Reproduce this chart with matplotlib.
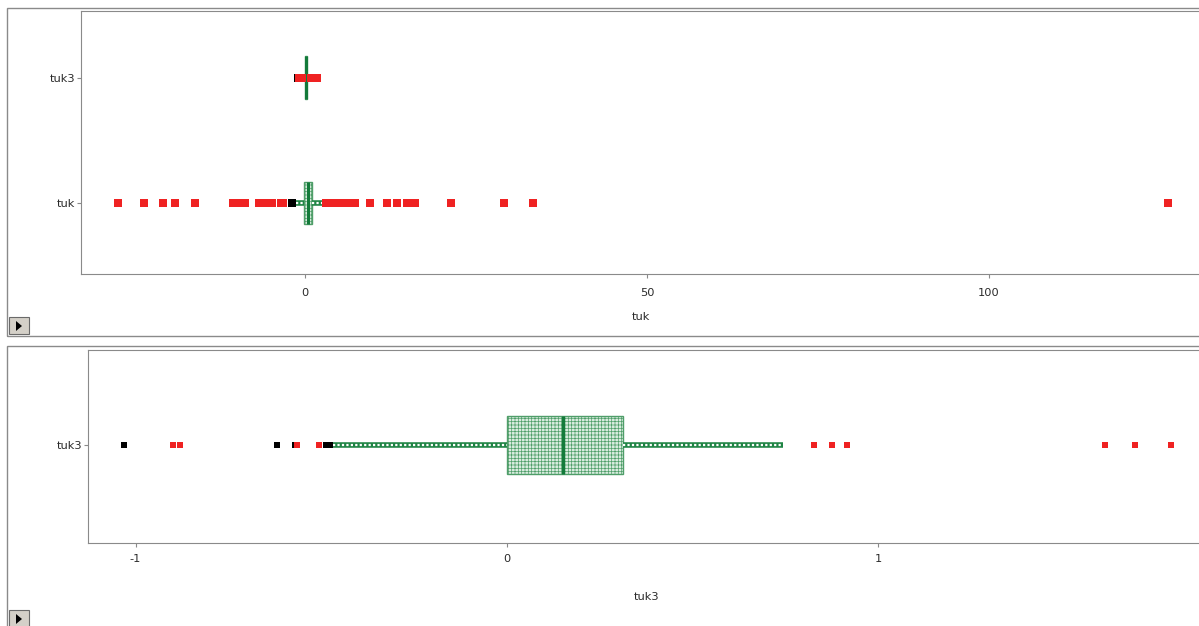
import matplotlib.pyplot as plt
from matplotlib.patches import Rectangle, Polygon

W, H = 1199, 626

# five-number summaries: whisker low, q1, median, q3, whisker high
tuk_stats = [-1.3, -0.15, 0.45, 1.05, 2.5]
tuk3_stats = [-0.468, 0.0, 0.151, 0.312, 0.743]

# outlying points
tuk_black = [-1.9]
tuk_red = [-27.3, -23.5, -20.8, -19.0, -16.1, -10.5, -9.5, -8.7, -6.7, -5.8, -4.8,
           -3.5, -3.2, 3.1, 4.1, 5.1, 6.3, 7.3, 9.5, 12.0, 13.5, 14.9, 16.1,
           21.3, 29.1, 33.3, 126.2]
tuk3_black = [-1.030, -0.620, -0.572, -0.486, -0.477]
tuk3_red = [-0.900, -0.880, -0.566, -0.505, 0.826, 0.875, 0.914, 1.610, 1.690, 1.787]

GREEN = '#1f8444'
RED = '#ef2222'
GRAY = '#8a8a8a'
TXT = '#2a2a2a'

plt.rcParams['hatch.linewidth'] = 0.5


def px_rect(left, top, right, bottom):
    return [left / W, 1 - bottom / H, (right - left) / W, (bottom - top) / H]


def draw_box(ax, s, pos, width):
    st = [dict(whislo=s[0], q1=s[1], med=s[2], q3=s[3], whishi=s[4], fliers=[])]
    ax.bxp(st, positions=[pos], widths=width, orientation='horizontal',
           patch_artist=True, showcaps=False, showfliers=False,
           boxprops=dict(facecolor='#d9ecdf', edgecolor='#4f9e69', hatch='+++++', linewidth=1),
           whiskerprops=dict(color=GREEN, linewidth=4, solid_capstyle='butt'),
           medianprops=dict(color='#137a3a', linewidth=2.2))
    ax.hlines([pos, pos], [s[0], s[3]], [s[1], s[4]], colors='white',
              linewidth=1.6, linestyles=(0, (1, 1)), zorder=2.5)


def draw_points(ax, black, red, pos, ms):
    ax.plot(black, [pos] * len(black), 's', ms=ms, color='black', mew=0, zorder=3)
    ax.plot(red, [pos] * len(red), 's', ms=ms, color=RED, mew=0, zorder=3)


def style_axes(ax):
    for side in ['left', 'top', 'bottom']:
        ax.spines[side].set_color(GRAY)
    ax.spines['right'].set_visible(False)
    ax.tick_params(axis='both', direction='out', length=3, color=GRAY,
                   labelsize=8.2, labelcolor=TXT)
    ax.tick_params(axis='y', pad=1)


fig = plt.figure(figsize=(W / 100, H / 100), dpi=100)

# panel frames and expand buttons
for top, bottom, by in [(8, 336, 317), (346, 640, 610)]:
    fig.add_artist(Rectangle((7 / W, 1 - bottom / H), (1215 - 7) / W, (bottom - top) / H,
                             transform=fig.transFigure, fill=False, edgecolor=GRAY, lw=1))
    fig.add_artist(Rectangle((9 / W, 1 - (by + 17) / H), 20 / W, 17 / H,
                             transform=fig.transFigure, facecolor='#d4d0c8', edgecolor='#6a6a6a', lw=0.8))
    fig.add_artist(Polygon([(16 / W, 1 - (by + 4) / H), (16 / W, 1 - (by + 14) / H),
                            (22 / W, 1 - (by + 9) / H)],
                           transform=fig.transFigure, facecolor='black', edgecolor='none'))

# top panel: both variables on the tuk scale
ax1 = fig.add_axes(px_rect(81, 11, 1205, 274))
draw_box(ax1, tuk_stats, 1, 0.34)
draw_points(ax1, tuk_black, tuk_red, 1, 5.8)
draw_box(ax1, tuk3_stats, 2, 0.34)
draw_points(ax1, tuk3_black, tuk3_red, 2, 5.8)
ax1.set_xlim(-32.75, 131.6)
ax1.set_ylim(0.435, 2.53)
ax1.set_xticks([0, 50, 100])
ax1.set_yticks([1, 2])
ax1.set_yticklabels(['tuk', 'tuk3'])
style_axes(ax1)
ax1.tick_params(axis='x', pad=7)
ax1.set_xlabel('tuk', fontsize=8.2, color=TXT)
ax1.xaxis.set_label_coords(0.498, -0.145)

# bottom panel: tuk3 alone
ax2 = fig.add_axes(px_rect(88, 350, 1205, 543))
draw_box(ax2, tuk3_stats, 1, 0.58)
draw_points(ax2, tuk3_black, tuk3_red, 1, 5.0)
ax2.set_xlim(-1.128, 1.879)
ax2.set_ylim(0.02, 1.95)
ax2.set_xticks([-1, 0, 1])
ax2.set_xticklabels(['-1', '0', '1'])
ax2.set_yticks([1])
ax2.set_yticklabels(['tuk3'])
style_axes(ax2)
ax2.tick_params(axis='x', pad=5)
ax2.set_xlabel('tuk3', fontsize=8.2, color=TXT)
ax2.xaxis.set_label_coords(0.5, -0.255)

fig.savefig('out.png', dpi=100)
